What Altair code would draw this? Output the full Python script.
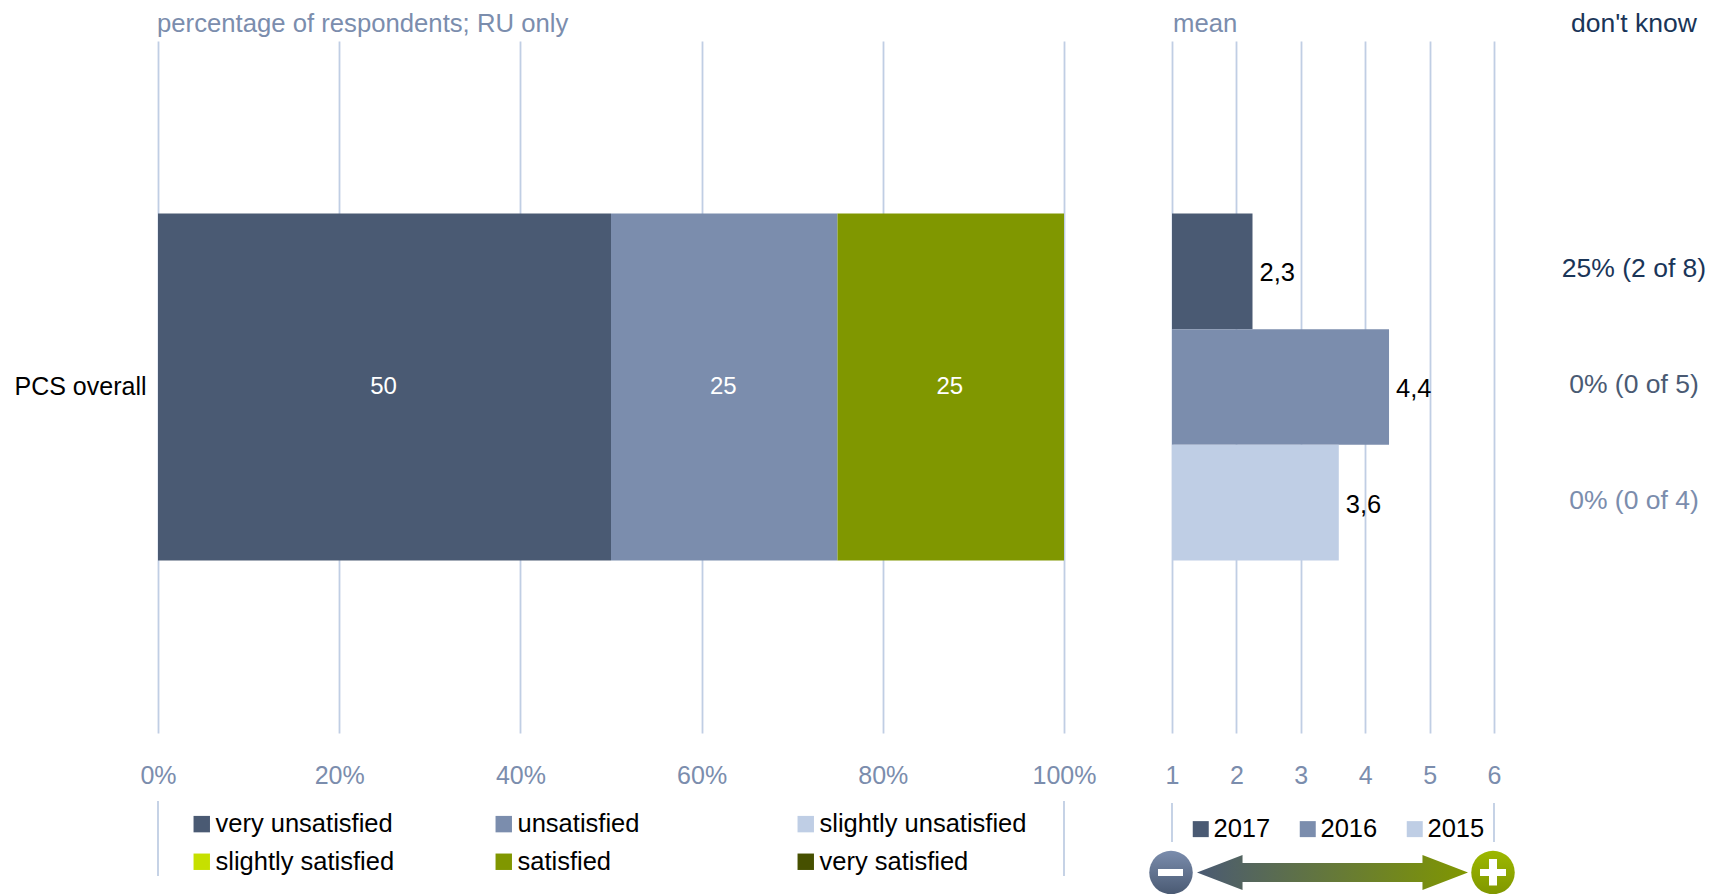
import altair as alt
import pandas as pd

row = "PCS overall"
levels = ["very unsatisfied", "unsatisfied", "slightly unsatisfied",
          "slightly satisfied", "satisfied", "very satisfied"]
level_colors = ["#4A5A73", "#7B8DAD", "#BFCEE5", "#C6E000", "#809700", "#465000"]
shares = [50, 25, 0, 0, 25, 0]

years = ["2017", "2016", "2015"]
year_colors = ["#4A5A73", "#7B8DAD", "#BFCEE5"]
means = [2.25, 4.37, 3.59]
mean_labels = ["2,3", "4,4", "3,6"]
dont_know = ["25% (2 of 8)", "0% (0 of 5)", "0% (0 of 4)"]
dk_colors = ["#1A3558", "#4A5A73", "#7B8DAD"]

pct_ticks = [0, 20, 40, 60, 80, 100]
mean_ticks = [1, 2, 3, 4, 5, 6]

FONT = "Liberation Sans"
GRID = "#C0CEE4"
AXIS_TXT = "#7B8DAD"
FS = 25.5

pct_df = pd.DataFrame({"row": row, "level": levels, "share": shares, "rank": range(6)})
pct_df = pct_df[pct_df.share > 0]
mean_df = pd.DataFrame({"row": row, "year": years, "mean": means, "base": 1,
                        "label": mean_labels, "dk": dont_know})
one = pd.DataFrame({"a": [0]})

pct_scale = alt.Scale(domain=[0, 100], range=[0, 906], zero=False, nice=False)
mean_scale = alt.Scale(domain=[1, 6], range=[1014, 1336], zero=False, nice=False)
y_enc = alt.Y("row:N", title=None,
              scale=alt.Scale(domain=[row], paddingInner=0, paddingOuter=0.497),
              axis=alt.Axis(ticks=False, domain=False, labelColor="black", labelFontSize=25,
                            labelPadding=12, labelFont=FONT, labelLimit=300))
y_off = alt.YOffset("year:N", scale=alt.Scale(domain=years, paddingInner=0, paddingOuter=0))
stack_sort = [alt.SortField(field="rank", order="ascending")]


def x_axis(vals, expr=None):
    kw = dict(values=vals, title=None, ticks=False, domain=False, grid=True, gridColor=GRID,
              gridWidth=1.8, labelColor=AXIS_TXT, labelFontSize=25, labelFont=FONT,
              labelPadding=30, labelFlush=False, labelOverlap=False, orient="bottom")
    if expr:
        kw["labelExpr"] = expr
    return alt.Axis(**kw)


bars_left = alt.Chart(pct_df).transform_stack(
    as_=["s0", "s1"], stack="share", groupby=["row"], sort=stack_sort
).mark_bar(size=347).encode(
    x=alt.X("s0:Q", scale=pct_scale, axis=x_axis(pct_ticks, "datum.value + '%'")),
    x2="s1:Q",
    y=y_enc,
    color=alt.Color("level:N", scale=alt.Scale(domain=levels, range=level_colors),
                    legend=alt.Legend(title=None, orient="none", legendX=31, legendY=770, columns=3,
                                      direction="horizontal",
                                      gridAlign="all", columnPadding=68, rowPadding=11, padding=0,
                                      symbolType="square", symbolSize=270, symbolStrokeWidth=0,
                                      labelFontSize=FS, labelFont=FONT, labelColor="black",
                                      labelOffset=1, labelLimit=400)),
)

text_left = alt.Chart(pct_df).transform_stack(
    as_=["s0", "s1"], stack="share", groupby=["row"], sort=stack_sort
).transform_calculate(mid="(datum.s0 + datum.s1) / 2").mark_text(
    color="white", fontSize=24, font=FONT, align="center", baseline="middle", dx=-1
).encode(
    x=alt.X("mid:Q", scale=pct_scale, axis=None),
    y=y_enc,
    text=alt.Text("share:Q"),
)

bars_right = alt.Chart(mean_df).mark_bar().encode(
    x=alt.X("mean:Q", scale=mean_scale, axis=x_axis(mean_ticks)),
    x2="base:Q",
    y=y_enc,
    yOffset=y_off,
    color=alt.Color("year:N", scale=alt.Scale(domain=years, range=year_colors),
                    legend=alt.Legend(title=None, orient="none", legendX=1030, legendY=775, columns=3,
                                      direction="horizontal",
                                      gridAlign="all", columnPadding=24, padding=0,
                                      symbolType="square", symbolSize=256, symbolStrokeWidth=0,
                                      labelFontSize=FS, labelFont=FONT, labelColor="black",
                                      labelOffset=0, labelLimit=200)),
)

text_right = alt.Chart(mean_df).mark_text(
    color="black", fontSize=FS, font=FONT, align="left", baseline="middle", dx=7, dy=2
).encode(
    x=alt.X("mean:Q", scale=mean_scale, axis=None),
    y=y_enc,
    yOffset=y_off,
    text="label:N",
)

text_dk = alt.Chart(mean_df).mark_text(
    fontSize=26.5, font=FONT, align="center", baseline="middle", dy=-2
).encode(
    x=alt.value(1476),
    y=y_enc,
    yOffset=y_off,
    text="dk:N",
    color=alt.Color("year:N", scale=alt.Scale(domain=years, range=dk_colors), legend=None),
)


def label(txt, x, y, color, size, align="left"):
    return alt.Chart(one).mark_text(text=txt, fontSize=size, font=FONT, color=color,
                                    align=align, baseline="alphabetic").encode(
        x=alt.value(x), y=alt.value(y))


title_left = label("percentage of respondents; RU only", -1, -9, AXIS_TXT, 25.7)
title_mean = label("mean", 1015, -9, AXIS_TXT, 25.7)
title_dk = label("don't know", 1476, -9, "#1A3558", 26.5, "center")

rule_left = alt.Chart(pd.DataFrame({"edge": [0, 100]})).mark_rule(color=GRID, strokeWidth=1.8).encode(
    x=alt.X("edge:Q", scale=pct_scale, axis=None), y=alt.value(760), y2=alt.value(835))
rule_right = alt.Chart(pd.DataFrame({"edge": [1, 6]})).mark_rule(color=GRID, strokeWidth=1.8).encode(
    x=alt.X("edge:Q", scale=mean_scale, axis=None), y=alt.value(762), y2=alt.value(801))


def grad(c0, c1, horizontal=False):
    return alt.LinearGradient(
        gradient="linear",
        stops=[alt.GradientStop(color=c0, offset=0), alt.GradientStop(color=c1, offset=1)],
        x1=0, y1=0, x2=1 if horizontal else 0, y2=0 if horizontal else 1)


ICON_Y = 831.5
arrow = alt.Chart(one).mark_point(
    shape="M-1,0L-0.664,-0.129L-0.664,-0.07L0.664,-0.07L0.664,-0.129L1,0L0.664,0.129L0.664,0.07L-0.664,0.07L-0.664,0.129Z",
    size=271 ** 2, filled=True, opacity=1, strokeWidth=0,
    fill=grad("#4A5A73", "#809700", True),
).encode(x=alt.value(1174.5), y=alt.value(ICON_Y))
minus_dot = alt.Chart(one).mark_point(
    shape="circle", size=1892, filled=True, opacity=1, strokeWidth=0, fill=grad("#7B8DAD", "#4A5A73")
).encode(x=alt.value(1013), y=alt.value(ICON_Y))
plus_dot = alt.Chart(one).mark_point(
    shape="circle", size=1892, filled=True, opacity=1, strokeWidth=0, fill=grad("#9DB800", "#809700")
).encode(x=alt.value(1335), y=alt.value(ICON_Y))


def white_bar(x0, x1, y0, y1):
    return alt.Chart(one).mark_rect(color="white").encode(
        x=alt.value(x0), x2=alt.value(x1), y=alt.value(y0), y2=alt.value(y1))


minus_bar = white_bar(1000, 1025, 828, 835)
plus_h = white_bar(1322, 1348, 828, 835)
plus_v = white_bar(1331, 1339, 818, 844.5)

chart = alt.layer(
    bars_left, text_left, bars_right, text_right, text_dk,
    title_left, title_mean, title_dk, rule_left, rule_right,
    arrow, minus_dot, plus_dot, minus_bar, plus_h, plus_v,
).resolve_scale(x="independent", color="independent").properties(
    width=1563, height=692,
    padding={"left": 150, "top": 33, "right": 0, "bottom": 161},
    autosize=alt.AutoSizeParams(type="none"),
    background="white",
).configure_view(strokeWidth=0)

chart.save("out.html", embed_options={"renderer": "svg", "actions": False})
